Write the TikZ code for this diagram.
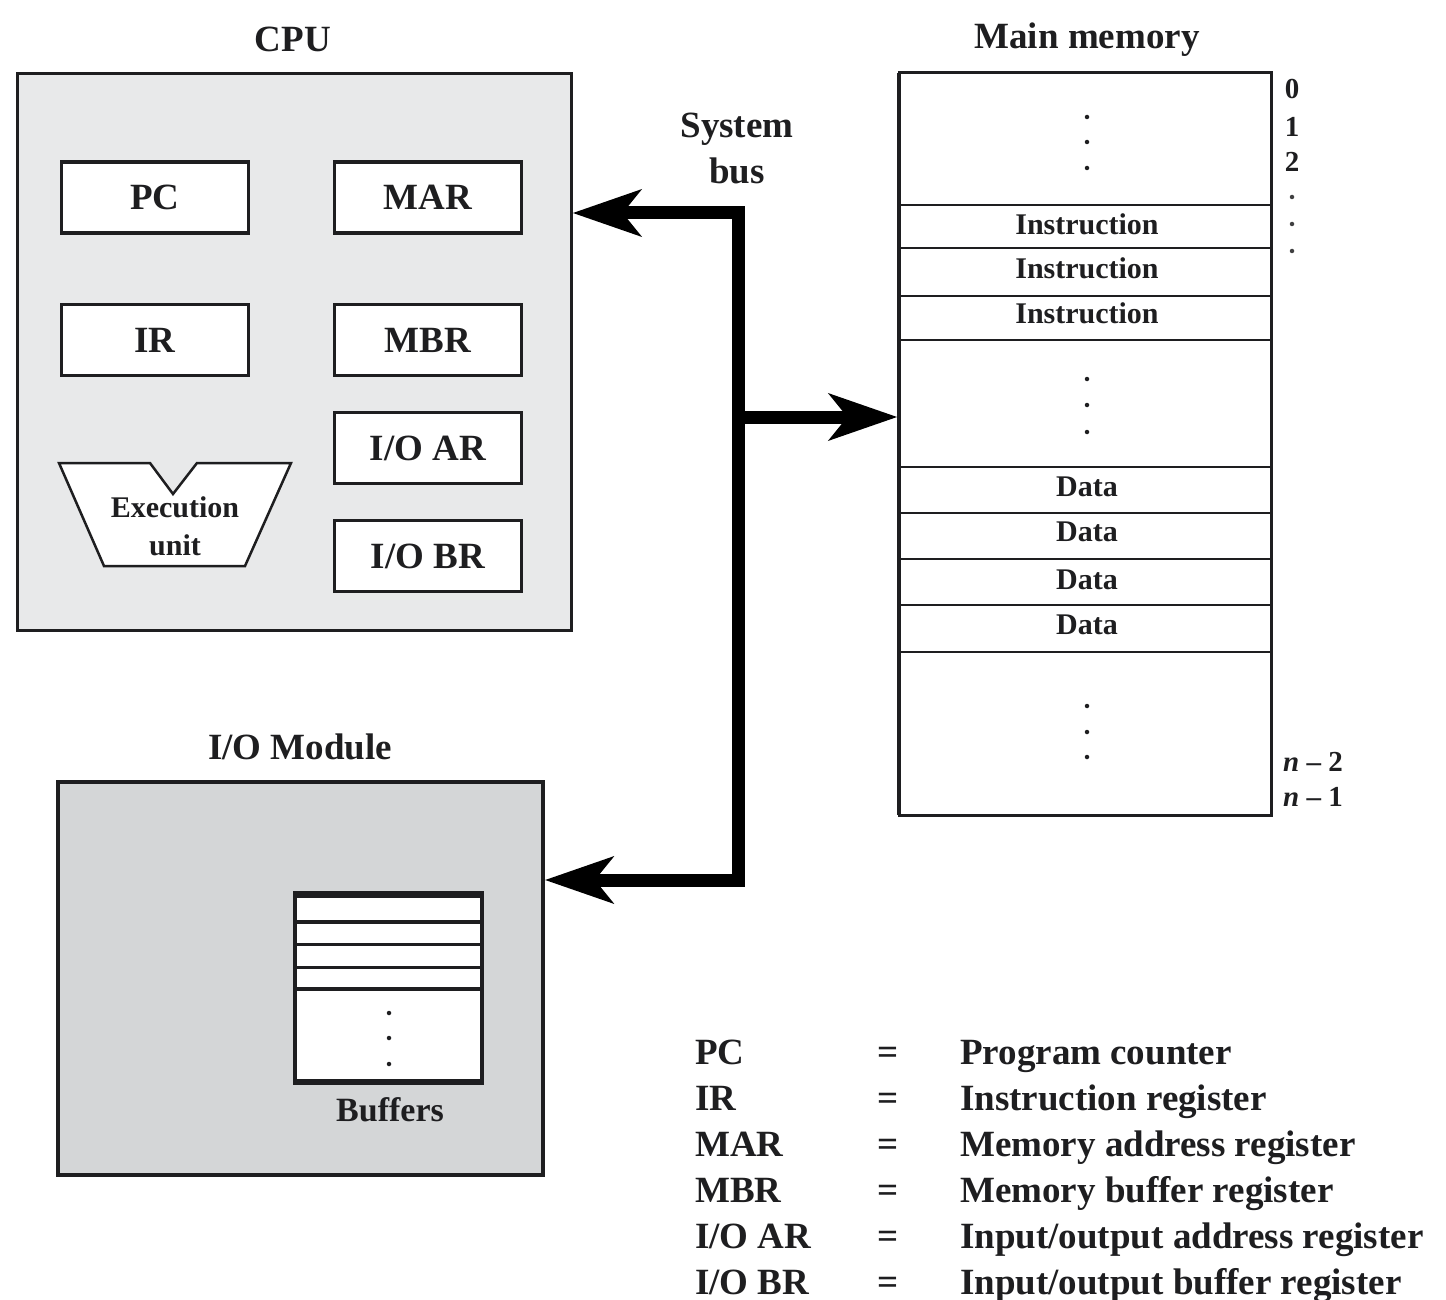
\documentclass[tikz,border=0pt]{standalone}
\usepackage{fontspec}
\setmainfont{Liberation Serif}
\usetikzlibrary{arrows.meta}
\definecolor{cpufill}{RGB}{232,233,234}
\definecolor{iofill}{RGB}{212,214,215}
\definecolor{ink}{RGB}{30,30,32}
\begin{document}
\begin{tikzpicture}[x=1pt,y=-1pt,
  txt/.style={text=ink, inner sep=0pt},
  ttl/.style={txt, font=\fontsize{37}{46}\selectfont\bfseries},
  regbox/.style={draw=ink, line width=3.5pt, fill=white, minimum width=187pt, minimum height=71pt, inner sep=0pt, text=ink, font=\fontsize{37}{40}\selectfont\bfseries},
  cellt/.style={txt, font=\fontsize{30}{38}\selectfont\bfseries},
  addr/.style={txt, font=\fontsize{29}{32}\selectfont\bfseries},
  bus/.style={line width=13pt, draw=black, line join=miter},
  vdot/.style={circle, fill=ink, inner sep=0pt, minimum size=4.5pt},
  sdot/.style={circle, fill=ink!85, inner sep=0pt, minimum size=4.5pt},
  leg/.style={txt, anchor=base west, font=\fontsize{37}{40}\selectfont\bfseries},
  legeq/.style={txt, anchor=base, font=\fontsize{37}{40}\selectfont\bfseries},
]
\useasboundingbox (0,0) rectangle (1446,1300);
\fill[white] (0,0) rectangle (1446,1300);

% ---------- CPU ----------
\node[draw=ink, line width=3pt, fill=cpufill, minimum width=554pt, minimum height=557pt, inner sep=0pt] (cpu) at (294,352) {};
\node[ttl] (cpulbl) at (293,39) {CPU};
\node[regbox] (pc)   at (155,197.5) {PC};
\node[regbox] (mar)  at (428,197.5) {MAR};
\node[regbox] (ir)   at (155,340) {IR};
\node[regbox] (mbr)  at (428,340) {MBR};
\node[regbox] (ioar) at (428,448) {I/O AR};
\node[regbox] (iobr) at (428,556) {I/O BR};
% execution unit
\draw[line width=2.5pt, draw=ink, fill=white, line join=miter]
  (59,463) -- (150,463) -- (173,494) -- (197,463) -- (291,463) -- (245,566) -- (104,566) -- cycle;
\node[cellt, align=center] (exu) at (175,526) {Execution\\unit};

% ---------- Main memory ----------
\node[ttl] (memlbl) at (1087,40) {Main memory};
\node[draw=ink, line width=3pt, fill=white, minimum width=372pt, minimum height=742pt, inner sep=0pt] (mem) at (1085,444) {};
\draw[line width=4.5pt, draw=ink] (899,73) -- (899,815);
\foreach \yy in {205,248,296,340,467,513,559,605,652}
  \draw[line width=2.5pt, draw=ink] (899,\yy) -- (1271,\yy);
\foreach \yy in {117,142,168,379,405,432,706,732,757}
  \node[vdot] at (1087,\yy) {};
\node[cellt] (ins1) at (1087,224) {Instruction};
\node[cellt] (ins2) at (1087,268) {Instruction};
\node[cellt] (ins3) at (1087,313) {Instruction};
\node[cellt] (dat1) at (1087,487) {Data};
\node[cellt] (dat2) at (1087,532) {Data};
\node[cellt] (dat3) at (1087,580) {Data};
\node[cellt] (dat4) at (1087,625) {Data};
% addresses
\node[addr] (a0) at (1292,89) {0};
\node[addr] (a1) at (1292,127) {1};
\node[addr] (a2) at (1292,162) {2};
\foreach \yy in {197,224,251}
  \node[sdot] at (1292,\yy) {};
\node[addr, anchor=west] (an2) at (1283,762) {\textit{n} – 2};
\node[addr, anchor=west] (an1) at (1283,797) {\textit{n} – 1};

% ---------- I/O module ----------
\node[ttl] (iolbl) at (300,747) {I/O Module};
\node[draw=ink, line width=3.5pt, fill=iofill, minimum width=485pt, minimum height=393pt, inner sep=0pt] (io) at (300.5,978.5) {};
\node[draw=ink, line width=3.5pt, fill=white, minimum width=187pt, minimum height=190pt, inner sep=0pt] (buf) at (388.5,988) {};
\draw[line width=5pt, draw=ink] (295,895) -- (482,895);
\draw[line width=4pt, draw=ink] (295,922) -- (482,922);
\draw[line width=3pt, draw=ink] (295,944) -- (482,944);
\draw[line width=3pt, draw=ink] (295,967) -- (482,967);
\draw[line width=4.5pt, draw=ink] (295,989) -- (482,989);
\draw[line width=4.5pt, draw=ink] (295,1081) -- (482,1081);
\foreach \yy in {1013,1038,1064}
  \node[vdot] at (389,\yy) {};
\node[txt, font=\fontsize{34}{38}\selectfont\bfseries] (buflbl) at (390,1110) {Buffers};

% ---------- System bus ----------
\node[ttl, align=center] (buslbl) at (737,148) {System\\bus};
\coordinate (bt) at (738,213);
\coordinate (bm) at (738,417);
\coordinate (bb) at (738,880);
\draw[bus, {Stealth[length=68pt,width=46pt,inset=18pt]}-{Stealth[length=68pt,width=46pt,inset=18pt]}]
  (cpu.east |- bt) -- (bt) -- (bb) -- (io.east |- bb);
\draw[bus, -{Stealth[length=68pt,width=46pt,inset=18pt]}] (bm) -- (mem.west |- bm);

% ---------- Legend ----------
\node[leg] (l1a) at (695,1064) {PC};
\node[legeq] (l1e) at (888,1064) {=};
\node[leg] (l1d) at (960,1064) {Program counter};
\node[leg] (l2a) at (695,1110) {IR};
\node[legeq] (l2e) at (888,1110) {=};
\node[leg] (l2d) at (960,1110) {Instruction register};
\node[leg] (l3a) at (695,1156) {MAR};
\node[legeq] (l3e) at (888,1156) {=};
\node[leg] (l3d) at (960,1156) {Memory address register};
\node[leg] (l4a) at (695,1202) {MBR};
\node[legeq] (l4e) at (888,1202) {=};
\node[leg] (l4d) at (960,1202) {Memory buffer register};
\node[leg] (l5a) at (695,1248) {I/O AR};
\node[legeq] (l5e) at (888,1248) {=};
\node[leg] (l5d) at (960,1248) {Input/output address register};
\node[leg] (l6a) at (695,1294) {I/O BR};
\node[legeq] (l6e) at (888,1294) {=};
\node[leg] (l6d) at (960,1294) {Input/output buffer register};
\end{tikzpicture}
\end{document}
